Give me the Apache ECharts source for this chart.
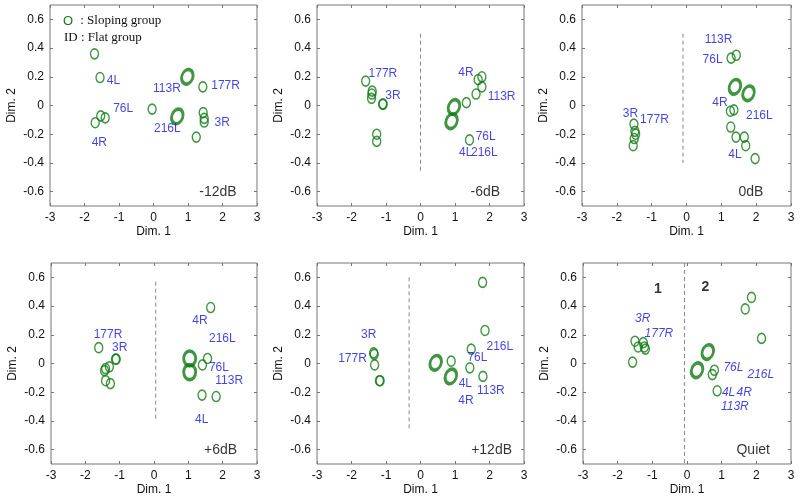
<!DOCTYPE html>
<html>
<head>
<meta charset="utf-8">
<script src="https://cdn.jsdelivr.net/npm/echarts@6/dist/echarts.min.js"></script>
<style>
html,body{margin:0;padding:0;background:#fff;}
#main{width:800px;height:501px;}
</style>
</head>
<body>
<div id="main"></div>
<script>
// tick labels
var xTicks = [-3, -2, -1, 0, 1, 2, 3];
var yTicks = [-0.6, -0.4, -0.2, 0, 0.2, 0.4, 0.6];

// -12dB
var p1Pts = [[-1.71,0.36],[-1.55,0.195],[-1.53,-0.072],[-1.40,-0.086],[-1.69,-0.12],[-0.04,-0.025],[1.43,0.13],[1.44,-0.05],[1.47,-0.09],[1.47,-0.115],[1.24,-0.22]];
var p1Bold = [[0.98,0.20],[0.69,-0.076]];
var p1Labels = [['4L',-1.16,0.17],['76L',-0.88,-0.02],['4R',-1.57,-0.26],['113R',0.39,0.12],['177R',2.09,0.14],['216L',0.40,-0.16],['3R',1.99,-0.12]];

// -6dB
var p2Pts = [[-1.59,0.17],[-1.40,0.10],[-1.41,0.08],[-1.42,0.05],[-1.10,0.01],[-1.08,0.01],[-1.27,-0.20],[-1.27,-0.25],[1.33,0.02],[1.61,0.08],[1.67,0.18],[1.78,0.20],[1.78,0.13],[1.42,-0.24]];
var p2Bold = [[0.97,-0.01],[0.90,-0.11]];
var p2Labels = [['177R',-1.09,0.22],['3R',-0.80,0.07],['4R',1.32,0.23],['113R',2.35,0.06],['76L',1.89,-0.22],['4L',1.31,-0.33],['216L',1.85,-0.33]];
var p2Line = [[0,0.5],[0,-0.47]];

// 0dB
var p3Pts = [[-1.51,-0.13],[-1.48,-0.18],[-1.46,-0.20],[-1.50,-0.23],[-1.53,-0.28],[1.28,0.33],[1.43,0.35],[1.36,-0.03],[1.26,-0.04],[1.27,-0.15],[1.42,-0.22],[1.66,-0.22],[1.70,-0.28],[1.97,-0.37]];
var p3Bold = [[1.39,0.13],[1.78,0.085]];
var p3Labels = [['113R',0.92,0.46],['76L',0.75,0.32],['3R',-1.61,-0.06],['177R',-0.92,-0.10],['4R',0.96,0.02],['216L',2.09,-0.07],['4L',1.39,-0.34]];
var p3Line = [[-0.1,0.5],[-0.1,-0.4]];

// +6dB
var p4Pts = [[-1.61,0.11],[-1.12,0.03],[-1.10,0.03],[-1.30,-0.023],[-1.41,-0.035],[-1.44,-0.05],[-1.41,-0.12],[-1.27,-0.14],[1.56,0.035],[1.41,-0.01],[1.65,0.39],[1.40,-0.22],[1.81,-0.23]];
var p4Bold = [[1.04,0.035],[1.04,-0.06]];
var p4Labels = [['177R',-1.34,0.20],['3R',-1.0,0.11],['4R',1.34,0.30],['216L',1.99,0.17],['76L',1.89,-0.03],['113R',2.19,-0.12],['4L',1.39,-0.39]];
var p4Line = [[0.05,0.57],[0.05,-0.4]];

// +12dB
var p5Pts = [[1.80,0.565],[1.87,0.23],[1.47,0.10],[0.89,0.016],[1.43,-0.03],[1.81,-0.09],[-1.36,0.074],[-1.34,0.064],[-1.33,-0.01],[-1.19,-0.12],[-1.17,-0.12]];
var p5Bold = [[0.44,0.005],[0.88,-0.09]];
var p5Labels = [['3R',-1.50,0.20],['177R',-1.97,0.035],['216L',2.30,0.12],['76L',1.65,0.04],['4L',1.30,-0.14],['113R',2.04,-0.19],['4R',1.32,-0.26]];
var p5Line = [[-0.33,0.6],[-0.33,-0.46]];

// Quiet
var p6Pts = [[1.86,0.46],[1.68,0.38],[2.15,0.175],[-1.50,0.155],[-1.41,0.115],[-1.26,0.145],[-1.23,0.115],[-1.20,0.10],[-1.57,0.01],[0.79,-0.047],[0.73,-0.077],[0.87,-0.19]];
var p6Bold = [[0.60,0.08],[0.29,-0.047]];
var p6Labels = [['3R',-1.28,0.31],['177R',-0.81,0.21],['76L',1.34,-0.03],['216L',2.13,-0.075],['4L',1.20,-0.20],['4R',1.65,-0.20],['113R',1.38,-0.30]];
var p6Groups = [['1',-0.84,0.52],['2',0.53,0.535]];
var p6Line = [[-0.07,0.7],[-0.07,-0.7]];

var tagNames = ['-12dB','-6dB','0dB','+6dB','+12dB','Quiet'];
var tagX = [1.87, 1.88, 1.85, 1.94, 2.06, 1.91];

var panels = [
    {pts:p1Pts, bold:p1Bold, labels:p1Labels, line:null,   grid:{left:50, top:5,   width:207, height:201}},
    {pts:p2Pts, bold:p2Bold, labels:p2Labels, line:p2Line, grid:{left:317,top:5,   width:207, height:201}},
    {pts:p3Pts, bold:p3Bold, labels:p3Labels, line:p3Line, grid:{left:582,top:5,   width:209, height:201}},
    {pts:p4Pts, bold:p4Bold, labels:p4Labels, line:p4Line, grid:{left:51, top:263, width:206, height:201}},
    {pts:p5Pts, bold:p5Bold, labels:p5Labels, line:p5Line, grid:{left:317,top:263, width:207, height:201}},
    {pts:p6Pts, bold:p6Bold, labels:p6Labels, line:p6Line, grid:{left:583,top:263, width:208, height:201}}
];

var GREEN = '#0f7a12';
var BLUE = '#1414d8';
var FONT = 'Liberation Sans, Arial, sans-serif';
var ring = 'path://M10,0A10,10,0,1,1,10,20A10,10,0,1,1,10,0Z';

var grids = [], xAxes = [], yAxes = [], series = [];

function labelData(arr){
    return arr.map(function(d){ return {name:d[0], value:[d[1], d[2]]}; });
}

panels.forEach(function(p, i){
    grids.push({left:p.grid.left, top:p.grid.top, width:p.grid.width, height:p.grid.height,
        show:true, borderColor:'#777', borderWidth:1, backgroundColor:'#fff'});
    // bottom + top x axes
    xAxes.push({gridIndex:i, type:'value', min:-3, max:3, interval:1, position:'bottom',
        axisLine:{show:false, onZero:false}, splitLine:{show:false},
        axisTick:{inside:true, length:3, lineStyle:{color:'#777'}},
        axisLabel:{color:'#111', fontSize:12, fontFamily:FONT, margin:6,
            customValues:xTicks},
        name:'Dim. 1', nameLocation:'middle', nameGap:20,
        nameTextStyle:{color:'#111', fontSize:12, fontFamily:FONT}});
    xAxes.push({gridIndex:i, type:'value', min:-3, max:3, interval:1, position:'top',
        axisLine:{show:false, onZero:false}, splitLine:{show:false}, axisLabel:{show:false},
        axisTick:{inside:true, length:3, lineStyle:{color:'#777'}}});
    // left + right y axes
    yAxes.push({gridIndex:i, type:'value', min:-0.7, max:0.7, position:'left',
        axisLine:{show:false, onZero:false}, splitLine:{show:false},
        axisTick:{inside:true, length:3, customValues:yTicks, lineStyle:{color:'#777'}},
        axisLabel:{color:'#111', fontSize:12, fontFamily:FONT, margin:6,
            customValues:yTicks, formatter:function(v){ return String(Math.round(v*10)/10); }},
        name:'Dim. 2', nameLocation:'middle', nameGap:32,
        nameTextStyle:{color:'#111', fontSize:12, fontFamily:FONT}});
    yAxes.push({gridIndex:i, type:'value', min:-0.7, max:0.7, position:'right',
        axisLine:{show:false, onZero:false}, splitLine:{show:false}, axisLabel:{show:false},
        axisTick:{inside:true, length:3, customValues:yTicks, lineStyle:{color:'#777'}}});

    var xi = 2*i, yi = 2*i;

    if (p.line) {
        series.push({type:'line', xAxisIndex:xi, yAxisIndex:yi, data:p.line, symbol:'none',
            silent:true, lineStyle:{color:'#888', width:1, type:[4,3]}, z:1});
    }
    series.push({type:'scatter', xAxisIndex:xi, yAxisIndex:yi, data:p.pts,
        symbol:ring, symbolSize:[8,10], silent:true,
        itemStyle:{color:'rgba(0,0,0,0)', borderColor:GREEN, borderWidth:1.5}, z:3});
    series.push({type:'scatter', xAxisIndex:xi, yAxisIndex:yi, data:p.bold,
        symbol:ring, symbolSize:i === 3 ? [12,15] : [11,15], symbolRotate:i === 3 ? 0 : -20, silent:true,
        itemStyle:{color:'rgba(0,0,0,0)', borderColor:GREEN, borderWidth:3.2}, z:3});
    series.push({type:'scatter', xAxisIndex:xi, yAxisIndex:yi, data:labelData(p.labels),
        symbolSize:0, silent:true,
        label:{show:true, position:'inside', formatter:'{b}', color:BLUE, fontSize:12,
            fontFamily:FONT, fontStyle:i === 5 ? 'italic' : 'normal'}, z:4});
    series.push({type:'scatter', xAxisIndex:xi, yAxisIndex:yi,
        data:[{name:tagNames[i], value:[tagX[i], -0.6]}],
        symbolSize:0, silent:true,
        label:{show:true, position:'inside', formatter:'{b}', color:'#000', fontSize:14, fontFamily:FONT}, z:4});
});

// group numbers in Quiet panel
series.push({type:'scatter', xAxisIndex:10, yAxisIndex:10, data:labelData(p6Groups),
    symbolSize:0, silent:true,
    label:{show:true, position:'inside', formatter:'{b}', color:'#000', fontSize:14,
        fontWeight:'bold', fontFamily:FONT}, z:4});

var option = {
    backgroundColor:'#fff',
    animation:false,
    grid:grids,
    xAxis:xAxes,
    yAxis:yAxes,
    series:series,
    graphic:[
        {type:'text', left:63, top:15, style:{text:'O', fill:GREEN, font:'13px Liberation Sans, Arial, sans-serif'}},
        {type:'text', left:77, top:14, style:{text:' : Sloping group', fill:'#111', font:'13px Liberation Serif, Times New Roman, serif'}},
        {type:'text', left:64, top:31, style:{text:'ID : Flat group', fill:'#111', font:'13px Liberation Serif, Times New Roman, serif'}}
    ]
};

var chart = echarts.init(document.getElementById('main'), null, {renderer:'canvas'});
chart.setOption(option);
</script>
</body>
</html>
